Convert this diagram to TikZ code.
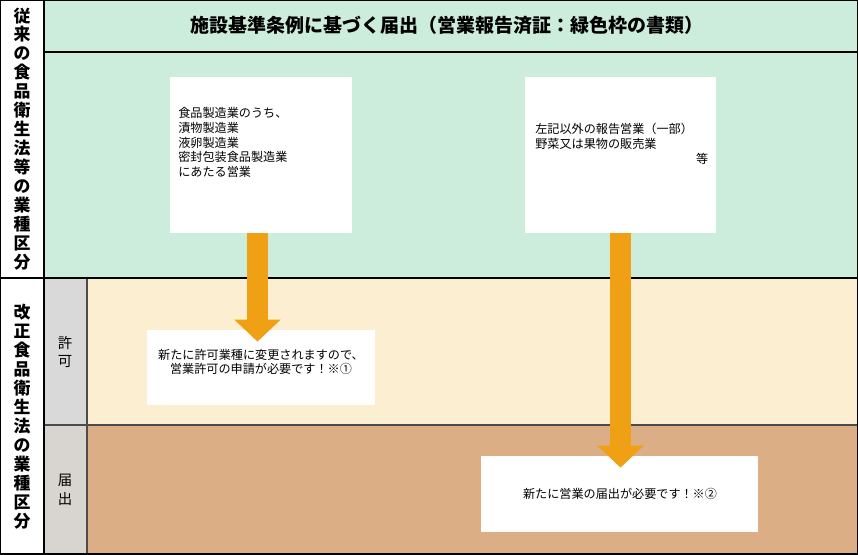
\documentclass[tikz,border=0pt]{standalone}
\usepackage{fontspec}
\setmainfont{Noto Sans CJK JP}
\usetikzlibrary{arrows.meta}
\definecolor{mintbg}{RGB}{205,237,220}
\definecolor{creambg}{RGB}{252,239,209}
\definecolor{tanbg}{RGB}{219,174,133}
\definecolor{greycell}{RGB}{217,217,217}
\definecolor{taupecell}{RGB}{216,212,207}
\definecolor{arroworange}{RGB}{240,160,20}
\tikzset{
  panel/.style={fill=white,draw=none,inner sep=0pt},
  note/.style={font=\fontsize{6.9}{8.4}\selectfont,inner sep=0pt,align=left},
  sidehead/.style={font=\fontsize{9.6}{10.8}\selectfont\bfseries,align=center,inner sep=0pt},
  rowhead/.style={font=\fontsize{8.2}{10.8}\selectfont,align=center,inner sep=0pt},
  flow/.style={arroworange,line width=0.42cm,-{Triangle[width=0.9cm,length=0.44cm]}},
}
\begin{document}
\begin{tikzpicture}[x=0.02cm,y=-0.02cm]
\useasboundingbox (0,0) rectangle (858,554);
% cell fills
\fill[white] (0,0) rectangle (44,554);
\fill[mintbg] (44,0) rectangle (858,278);
\fill[greycell] (44,278) rectangle (87,425);
\fill[taupecell] (44,425) rectangle (87,554);
\fill[creambg] (87,278) rectangle (858,425);
\fill[tanbg] (87,425) rectangle (858,554);
% grid
\draw[line width=0.6pt,black!70] (87,278) -- (87,554);
\draw[line width=0.6pt,black!70] (44,425) -- (858,425);
\draw[line width=1.1pt] (44,52) -- (858,52);
\draw[line width=0.9pt] (0,278) -- (858,278);
\draw[line width=0.9pt] (44,0) -- (44,554);
\draw[line width=1.4pt] (0,0) rectangle (858,554);
% headings
\node[font=\fontsize{10.8}{12}\selectfont\bfseries] (head) at (447,25) {施設基準条例に基づく届出（営業報告済証：緑色枠の書類）};
\node[sidehead] (oldcat) at (22,139) {従\\来\\の\\食\\品\\衛\\生\\法\\等\\の\\業\\種\\区\\分};
\node[sidehead] (newcat) at (22,417) {改\\正\\食\\品\\衛\\生\\法\\の\\業\\種\\区\\分};
\node[rowhead] (permit) at (65,352) {許\\可};
\node[rowhead] (notice) at (65,490) {届\\出};
% white boxes
\node[panel,minimum width=3.64cm,minimum height=3.12cm] (b1) at (261,155) {};
\node[panel,minimum width=3.82cm,minimum height=3.12cm] (b2) at (620.5,155) {};
\node[panel,minimum width=4.56cm,minimum height=1.5cm] (b3) at (261,367.5) {};
\node[panel,minimum width=5.54cm,minimum height=1.52cm] (b4) at (619.5,494) {};
\node[note,anchor=north west] (t1) at (178,107) {食品製造業のうち、\\漬物製造業\\液卵製造業\\密封包装食品製造業\\にあたる営業};
\node[note,anchor=north west,text width=3.46cm] (t2) at (535,123) {左記以外の報告営業（一部）\\野菜又は果物の販売業\\\hfill 等};
\node[note,align=center] (t3) at (261,362) {新たに許可業種に変更されますので、\\営業許可の申請が必要です！※①};
\node[note] (t4) at (620,494) {新たに営業の届出が必要です！※②};
% arrows
\draw[flow] ([xshift=-0.07cm]b1.south) -- ([xshift=-0.07cm,yshift=-0.24cm]b1.south |- b3.north);
\draw[flow] (b2.south) -- ([yshift=-0.24cm]b2.south |- b4.north);
\end{tikzpicture}
\end{document}
